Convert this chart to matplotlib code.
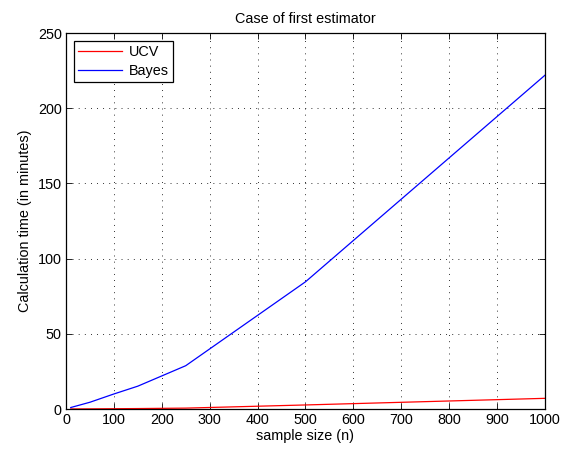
import numpy as np
import matplotlib
matplotlib.use("Agg")
import matplotlib.pyplot as plt

plt.rcParams['font.family'] = ['Liberation Sans', 'DejaVu Sans']
plt.rcParams['font.size'] = 10.4

# sample sizes and calculation times (minutes)
n_bayes = [10, 50, 100, 150, 250, 500, 1000]
t_bayes = [1.0, 4.5, 10.0, 15.2, 28.8, 84.6, 222.0]
n_ucv = [10, 50, 100, 150, 250, 500, 1000]
t_ucv = [0.05, 0.1, 0.2, 0.3, 0.6, 2.7, 7.1]

fig = plt.figure(figsize=(5.61, 4.53), dpi=100)
ax = fig.add_axes([0.1176, 0.0971, 0.8539, 0.8299])

ax.plot(n_ucv, t_ucv, color='r', lw=0.9, label='UCV')
ax.plot(n_bayes, t_bayes, color='b', lw=0.9, label='Bayes')

ax.set_xlim(0, 1000)
ax.set_ylim(0, 250)
ax.set_xticks(np.arange(0, 1001, 100))
ax.set_yticks(np.arange(0, 251, 50))
ax.grid(True, linestyle=(0, (0.8, 5.5)), color='k', lw=0.7)
ax.tick_params(direction='in', top=True, right=True, length=4, width=0.6, pad=3)
for s in ax.spines.values():
    s.set_linewidth(0.9)

ax.set_xlabel('sample size (n)', labelpad=1)
ax.set_ylabel('Calculation time (in minutes)', labelpad=4)
ax.set_title('Case of first estimator', fontsize=10.4, pad=7)

leg = ax.legend(loc='upper left', fancybox=False, edgecolor='k', framealpha=1,
                borderaxespad=0.55, handlelength=3.0, handletextpad=0.5,
                borderpad=0.3, labelspacing=0.3)
leg.get_frame().set_linewidth(0.9)

fig.savefig('out.png', dpi=100)
